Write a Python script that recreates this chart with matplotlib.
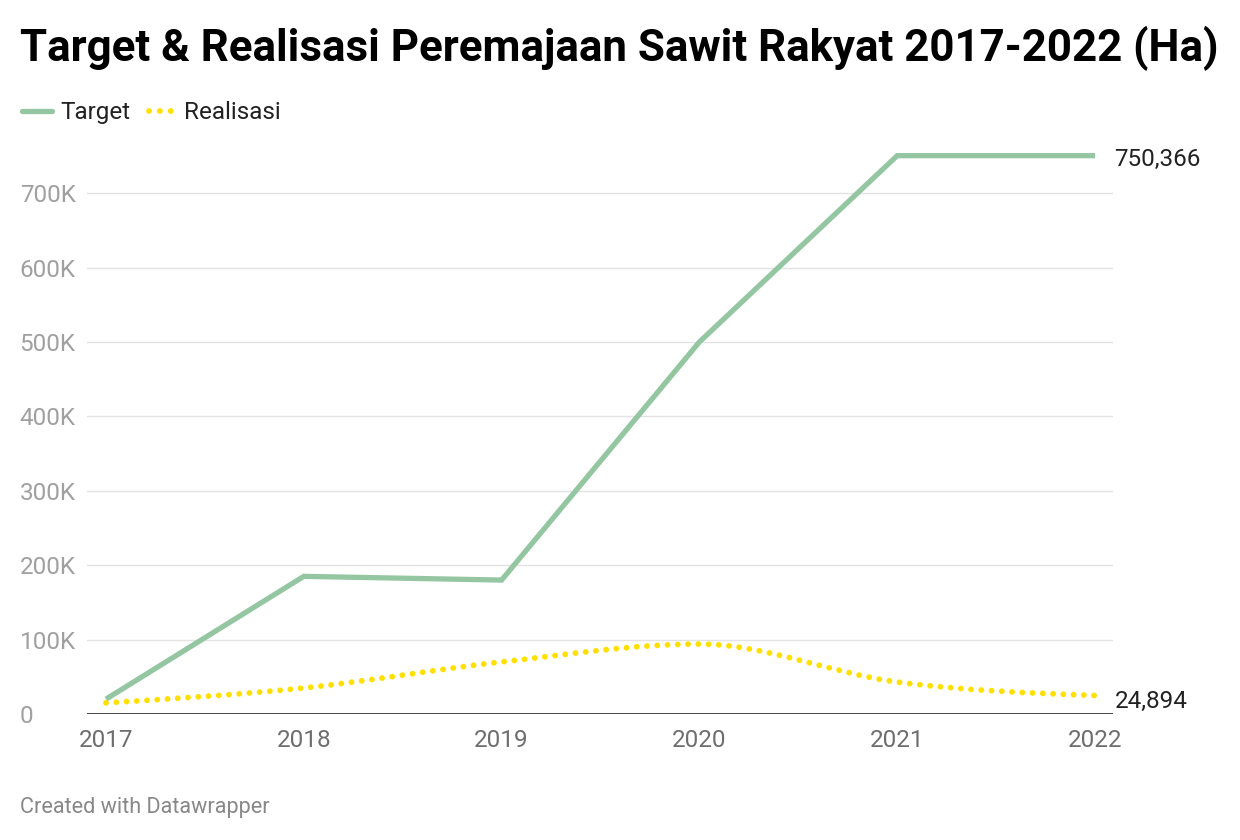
import numpy as np
import matplotlib
matplotlib.use("Agg")
import matplotlib.pyplot as plt
from matplotlib.path import Path
from matplotlib.patches import PathPatch
from matplotlib.lines import Line2D

plt.rcParams['font.family'] = ['Roboto', 'DejaVu Sans']

years = [2017, 2018, 2019, 2020, 2021, 2022]
target = [20000, 185000, 180000, 500000, 750366, 750366]
realisasi = [15000, 35000, 70000, 94000, 43000, 24894]
y_ticks = [0, 100000, 200000, 300000, 400000, 500000, 600000, 700000]
y_tick_labels = ["0", "100K", "200K", "300K", "400K", "500K", "600K", "700K"]
x_tick_labels = ["2017", "2018", "2019", "2020", "2021", "2022"]

GREEN = "#94c6a2"
YELLOW = "#ffe000"
FS = 17.5

W, H = 1240, 840
fig = plt.figure(figsize=(W / 100, H / 100), dpi=100)
ax = fig.add_axes([87 / W, 1 - 714 / H, (1113 - 87) / W, (714 - 148.5) / H])
ax.set_xlim(2017 - 19 / 197.8, 2022 + 18 / 197.8)
ax.set_ylim(0, 760000)


def monotone_path(xs, ys):
    xs = np.asarray(xs, float)
    ys = np.asarray(ys, float)
    n = len(xs)
    t = np.zeros(n)
    for i in range(1, n - 1):
        h0 = xs[i] - xs[i - 1]
        h1 = xs[i + 1] - xs[i]
        s0 = (ys[i] - ys[i - 1]) / h0
        s1 = (ys[i + 1] - ys[i]) / h1
        p = (s0 * h1 + s1 * h0) / (h0 + h1)
        t[i] = (np.sign(s0) + np.sign(s1)) * min(abs(s0), abs(s1), 0.5 * abs(p))
    h = xs[1] - xs[0]
    t[0] = (3 * (ys[1] - ys[0]) / h - t[1]) / 2
    h = xs[-1] - xs[-2]
    t[-1] = (3 * (ys[-1] - ys[-2]) / h - t[-2]) / 2
    verts = [(xs[0], ys[0])]
    codes = [Path.MOVETO]
    for i in range(n - 1):
        h = xs[i + 1] - xs[i]
        verts += [(xs[i] + h / 3, ys[i] + h * t[i] / 3),
                  (xs[i + 1] - h / 3, ys[i + 1] - h * t[i + 1] / 3),
                  (xs[i + 1], ys[i + 1])]
        codes += [Path.CURVE4] * 3
    return Path(verts, codes)


# gridlines
for v in y_ticks[1:]:
    ax.axhline(v, color="#e3e3e3", lw=1.0, zorder=1)
ax.axhline(0, color="#111111", lw=1.8, zorder=4)

ax.plot(years, target, color=GREEN, lw=3.8, solid_capstyle="butt",
        solid_joinstyle="miter", zorder=2)
patch = PathPatch(monotone_path(years, realisasi), facecolor="none",
                  edgecolor=YELLOW, lw=4.2, linestyle=(0, (0.01, 1.75)),
                  capstyle="round", zorder=3)
ax.add_patch(patch)

for s in ax.spines.values():
    s.set_visible(False)
ax.set_xticks(years)
ax.set_xticklabels(x_tick_labels)
ax.set_yticks(y_ticks)
ax.set_yticklabels(y_tick_labels)
ax.tick_params(axis="x", length=0, pad=11, labelsize=FS, labelcolor="#6e6e6e")
ax.tick_params(axis="y", length=0, pad=48.5, labelsize=FS, labelcolor="#a0a0a0")
for lab in ax.get_yticklabels():
    lab.set_horizontalalignment("left")
ax.set_facecolor("none")

# end labels
ax.annotate("750,366", xy=(years[-1], target[-1]), xytext=(14, -3),
            textcoords="offset points", ha="left", va="center",
            fontsize=FS, color="#222222")
ax.annotate("24,894", xy=(years[-1], realisasi[-1]), xytext=(14, -4),
            textcoords="offset points", ha="left", va="center",
            fontsize=FS, color="#222222")

# title
fig.text(20 / W, 1 - 48 / H, "Target & Realisasi Peremajaan Sawit Rakyat 2017-2022 (Ha)",
         fontsize=31.6, fontweight="bold", color="#000000", ha="left", va="center")

# legend
ly = 1 - 111 / H
fig.add_artist(Line2D([22 / W, 52 / W], [ly, ly], color=GREEN, lw=3.8,
                      solid_capstyle="round", transform=fig.transFigure))
fig.text(60 / W, 1 - 112.5 / H, "Target", fontsize=FS, color="#222222", ha="left", va="center")
fig.add_artist(Line2D([149 / W, 171 / W], [ly, ly], color=YELLOW, lw=4.2,
                      linestyle=(0, (0.01, 1.85)), dash_capstyle="round",
                      transform=fig.transFigure))
fig.text(184 / W, 1 - 112.5 / H, "Realisasi", fontsize=FS, color="#222222", ha="left", va="center")

# footer
fig.text(20 / W, 1 - 808 / H, "Created with Datawrapper", fontsize=15.6,
         color="#888888", ha="left", va="center")

fig.savefig("out.png", dpi=100, facecolor="white")
